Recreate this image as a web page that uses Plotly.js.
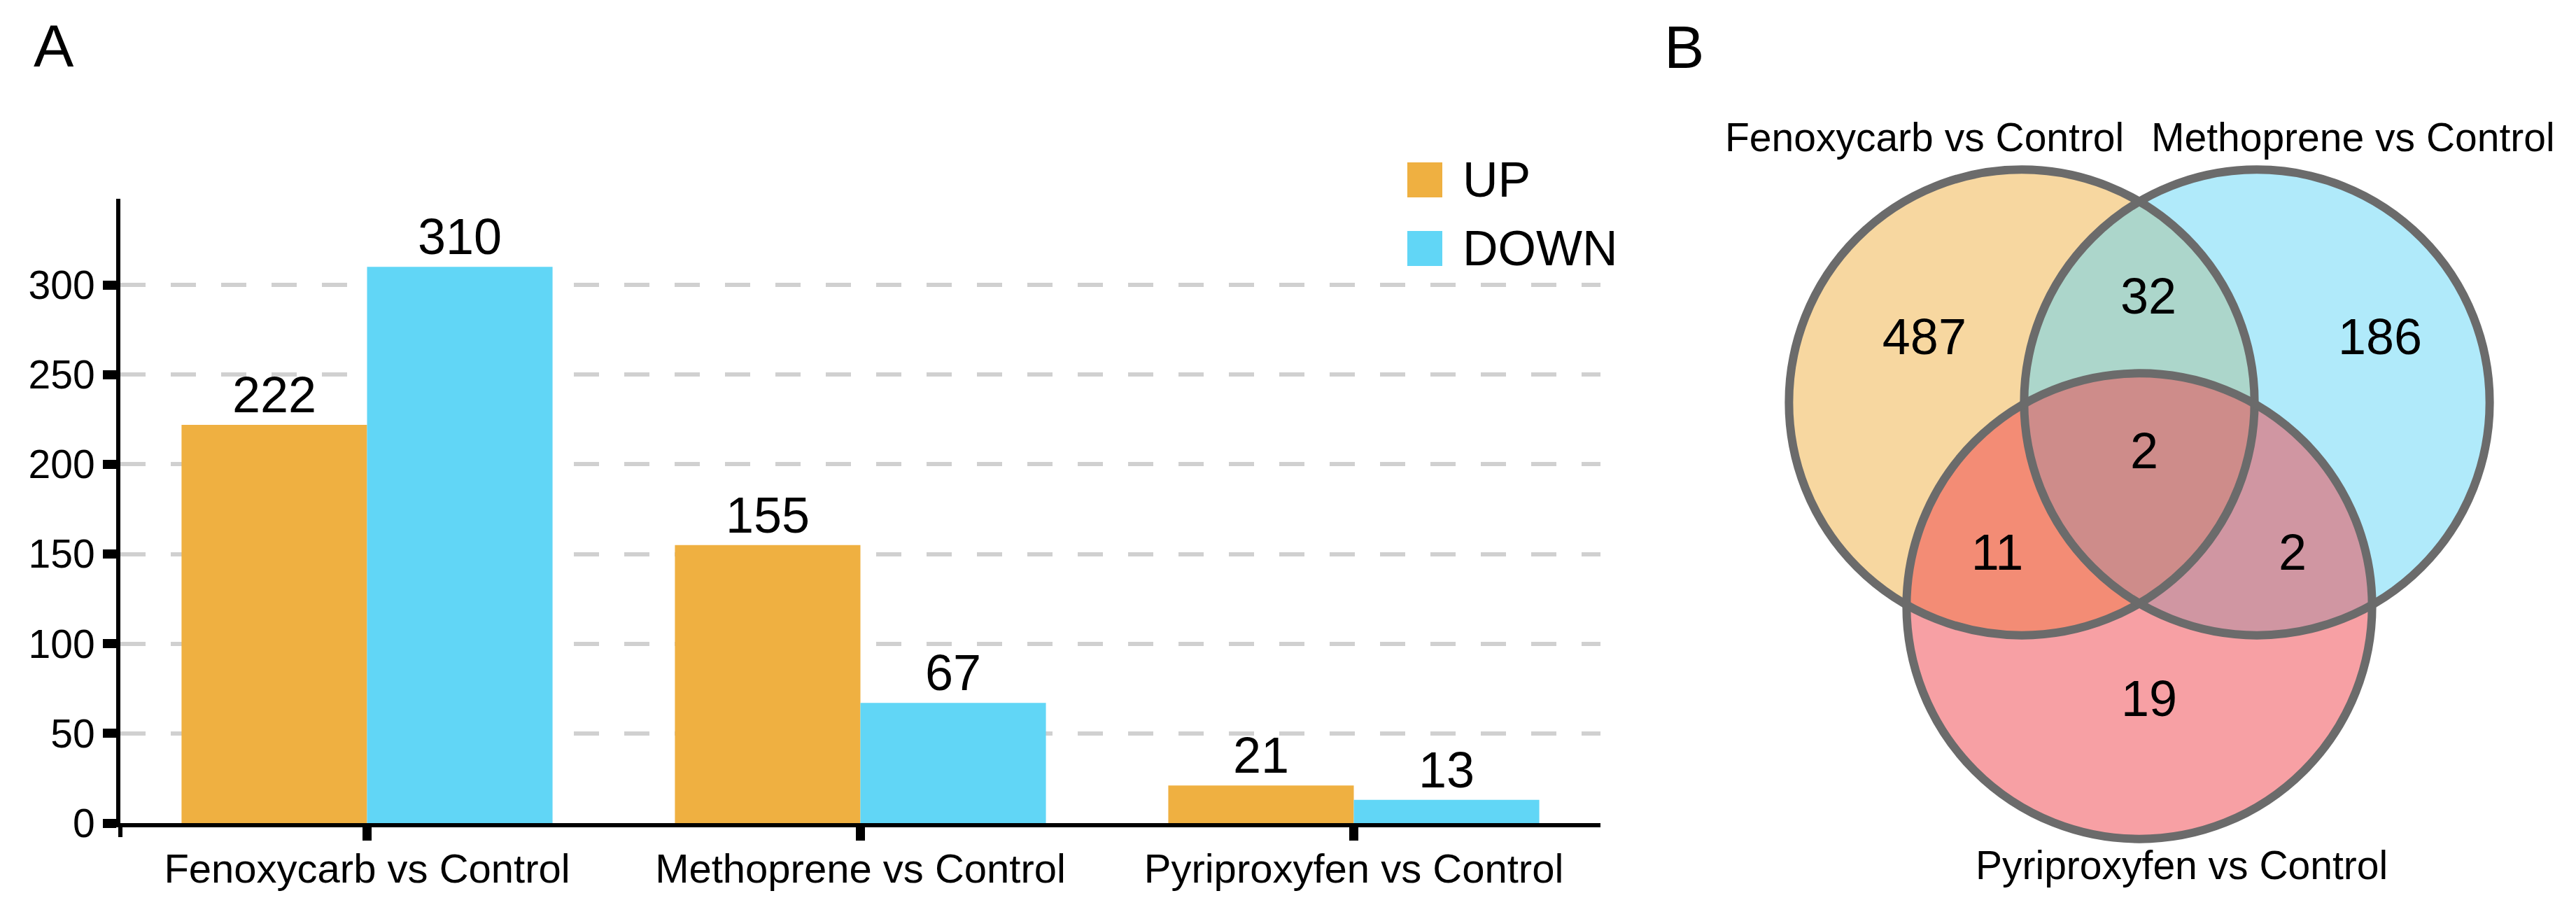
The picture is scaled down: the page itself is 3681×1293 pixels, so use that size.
<!DOCTYPE html>
<html>
<head>
<meta charset="utf-8">
<script src="https://cdn.plot.ly/plotly-3.0.1.min.js"></script>
<style>html,body{margin:0;padding:0;background:#fff;}#chart{width:3681px;height:1293px;}</style>
</head>
<body>
<div id="chart"></div>
<script>
// ---------------- data ----------------
const categories = ['Fenoxycarb vs Control', 'Methoprene vs Control', 'Pyriproxyfen vs Control'];
const seriesNames = ['UP', 'DOWN'];
const upValues = [222, 155, 21];
const downValues = [310, 67, 13];
const yTickValues = [0, 50, 100, 150, 200, 250, 300];

const vennSets = ['Fenoxycarb vs Control', 'Methoprene vs Control', 'Pyriproxyfen vs Control'];
// regions: F only, M only, P only, F&M, F&P, M&P, F&M&P
const vennRegions = ['F', 'M', 'P', 'FM', 'FP', 'MP', 'FMP'];
const vennCounts = [487, 186, 19, 32, 11, 2, 2];

const panelLabels = ['A', 'B'];

// ---------------- styles / layout ----------------
const W = 3681, H = 1293;
const FONT = 'Liberation Sans, Arial, Helvetica, sans-serif';
const upColor = '#EFB041', downColor = '#61D6F6';
const vennColors = ['#EFB041', '#61D6F6', '#EF4149'];

// bar plot area (px)
const plotL = 172, plotR = 2287, plotT = 284, plotB = 1176;
const pxPerUnit = (1176 - 407) / 300;
const yTop = (plotB - plotT) / pxPerUnit;

// venn geometry: unit = side of centre triangle (px)
const unit = 336, vcx = 3057, vcy = 672, vx0 = 2357;
const rad = 0.99;
const h3 = Math.sqrt(3) / 2;
const centers = [[-0.5, h3 / 3], [0.5, h3 / 3], [0, -2 * h3 / 3]];
// label offsets for regions (in units, relative to centroid)
const regionPos = {
  F: [-0.914, 0.548], M: [1.024, 0.548], P: [0.042, -0.991],
  FM: [0.039, 0.720], FP: [-0.604, -0.369], MP: [0.652, -0.369], FMP: [0.021, 0.0625]
};
const setLabelPos = [[-0.914, 1.417], [0.908, 1.417], [0.179, -1.68]];

const traces = [
  {type: 'bar', name: seriesNames[0], x: categories, y: upValues, marker: {color: upColor},
   text: upValues.map(String), textposition: 'outside', textfont: {size: 72, color: '#000', family: FONT},
   constraintext: 'none', cliponaxis: false, showlegend: false, hoverinfo: 'skip', xaxis: 'x', yaxis: 'y'},
  {type: 'bar', name: seriesNames[1], x: categories, y: downValues, marker: {color: downColor},
   text: downValues.map(String), textposition: 'outside', textfont: {size: 72, color: '#000', family: FONT},
   constraintext: 'none', cliponaxis: false, showlegend: false, hoverinfo: 'skip', xaxis: 'x', yaxis: 'y'},
  {type: 'scatter', mode: 'text', xaxis: 'x2', yaxis: 'y2',
   x: vennRegions.map(r => regionPos[r][0]), y: vennRegions.map(r => regionPos[r][1]),
   text: vennCounts.map(String), textposition: 'middle center',
   textfont: {size: 72, color: '#000', family: FONT}, showlegend: false, hoverinfo: 'skip', cliponaxis: false}
];

const shapes = [];
// venn fills
centers.forEach((c, i) => {
  shapes.push({type: 'circle', xref: 'x2', yref: 'y2', layer: 'below',
    x0: c[0] - rad, x1: c[0] + rad, y0: c[1] - rad, y1: c[1] + rad,
    fillcolor: vennColors[i], opacity: 0.5, line: {width: 0}});
});
centers.forEach((c) => {
  shapes.push({type: 'circle', xref: 'x2', yref: 'y2', layer: 'below',
    x0: c[0] - rad, x1: c[0] + rad, y0: c[1] - rad, y1: c[1] + rad,
    fillcolor: 'rgba(0,0,0,0)', line: {width: 12, color: '#6b6b6b'}});
});
// y-axis extension below x-axis
shapes.push({type: 'line', xref: 'paper', yref: 'paper', x0: plotL / W, x1: plotL / W,
  y0: (H - plotB) / H, y1: (H - 1196) / H, line: {color: '#000', width: 6}});
// legend swatches
const legendRows = [257, 355];
[upColor, downColor].forEach((col, i) => {
  shapes.push({type: 'rect', xref: 'paper', yref: 'paper', x0: 2011 / W, x1: 2061 / W,
    y0: (H - legendRows[i] - 25) / H, y1: (H - legendRows[i] + 25) / H, fillcolor: col, line: {width: 0}});
});

const annotations = [];
seriesNames.forEach((n, i) => {
  annotations.push({xref: 'paper', yref: 'paper', x: 2088 / W, y: (H - legendRows[i]) / H,
    xanchor: 'left', yanchor: 'middle', text: n, showarrow: false, font: {size: 70, family: FONT, color: '#000'}});
});
vennSets.forEach((s, i) => {
  annotations.push({xref: 'x2', yref: 'y2', x: setLabelPos[i][0], y: setLabelPos[i][1],
    xanchor: 'center', yanchor: 'middle', text: s, showarrow: false, font: {size: 57, family: FONT, color: '#000'}});
});
annotations.push({xref: 'paper', yref: 'paper', x: 46 / W, y: (H - 65) / H, xanchor: 'left', yanchor: 'middle',
  text: panelLabels[0], showarrow: false, font: {size: 86, family: FONT, color: '#000'}});
annotations.push({xref: 'paper', yref: 'paper', x: 2376 / W, y: (H - 67) / H, xanchor: 'left', yanchor: 'middle',
  text: panelLabels[1], showarrow: false, font: {size: 86, family: FONT, color: '#000'}});

const layout = {
  width: W, height: H, margin: {l: 0, r: 0, t: 0, b: 0},
  paper_bgcolor: '#fff', plot_bgcolor: 'rgba(0,0,0,0)',
  font: {family: FONT, color: '#000'},
  showlegend: false, barmode: 'group', bargap: 0.248, bargroupgap: 0,
  xaxis: {domain: [plotL / W, plotR / W], type: 'category', range: [-0.5, 2.5],
    showline: true, linecolor: '#000', linewidth: 6, ticks: 'outside', ticklen: 19, tickwidth: 13,
    tickcolor: '#000', tickfont: {size: 58, family: FONT, color: '#000'}, ticklabelstandoff: -10,
    showgrid: false, zeroline: false, fixedrange: true},
  yaxis: {domain: [(H - plotB) / H, (H - plotT) / H], range: [0, yTop], tickmode: 'array', tickvals: yTickValues,
    ticks: 'outside', ticklen: 19, tickwidth: 13, tickcolor: '#000', showline: true, linecolor: '#000', linewidth: 6,
    showgrid: true, gridcolor: '#d0d0d0', gridwidth: 6, griddash: '36px,36px', zeroline: false,
    tickfont: {size: 57, family: FONT, color: '#000'}, fixedrange: true},
  xaxis2: {domain: [vx0 / W, 1], range: [(vx0 - vcx) / unit, (W - vcx) / unit], visible: false, fixedrange: true},
  yaxis2: {domain: [0, 1], range: [-(H - vcy) / unit, vcy / unit], visible: false, fixedrange: true},
  shapes: shapes, annotations: annotations
};

Plotly.newPlot('chart', traces, layout, {staticPlot: true, displayModeBar: false});
</script>
</body>
</html>
